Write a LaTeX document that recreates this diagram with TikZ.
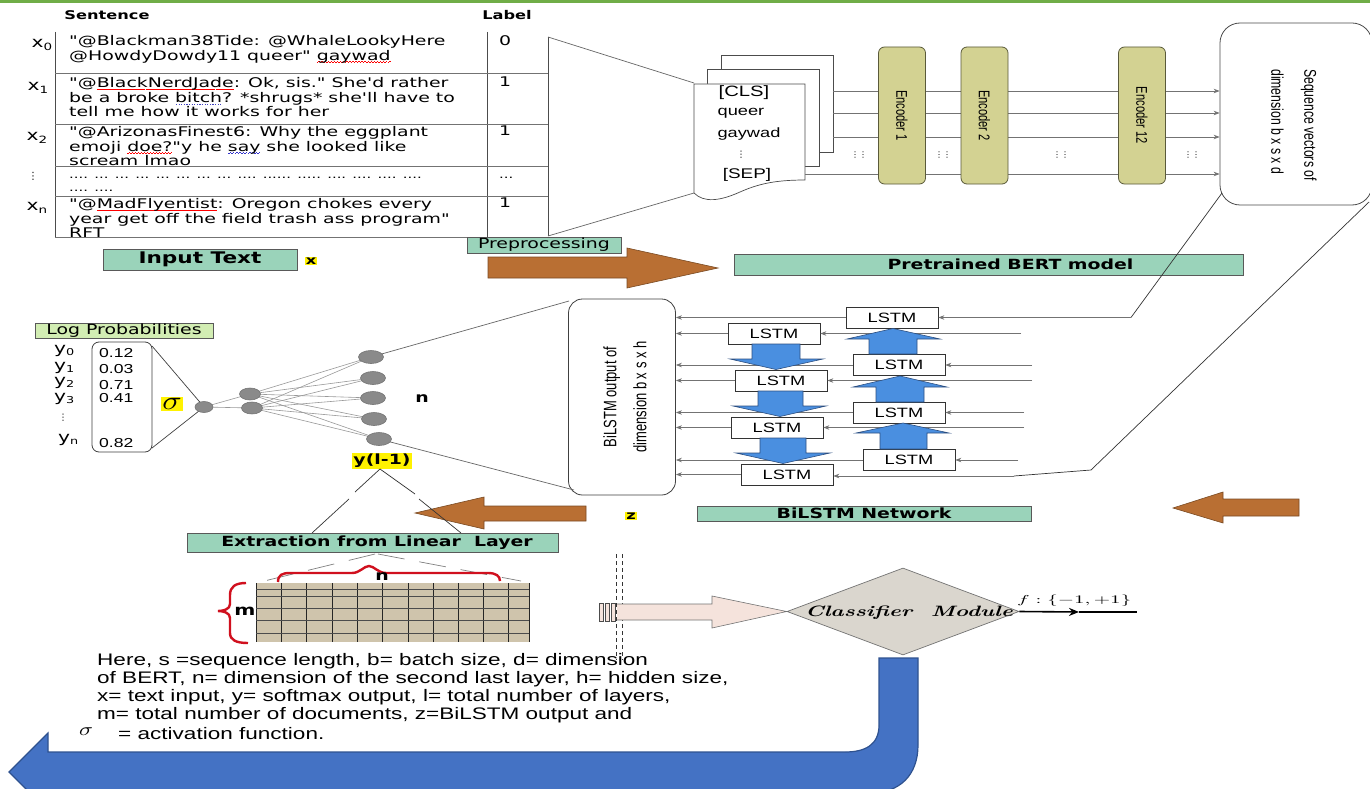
\documentclass[tikz,border=0pt]{standalone}
\usepackage{fontspec}
\usepackage{graphicx}
\usetikzlibrary{shapes.geometric,arrows.meta}
\setmainfont{Liberation Sans}[FakeStretch=1.35]
\newfontfamily\verd{DejaVu Sans}[FakeStretch=1.35]
\newfontfamily\verdt{DejaVu Sans}[FakeStretch=1.42]
\newfontfamily\rotf{Liberation Sans}[FakeStretch=0.72]
\newfontfamily\plainv{DejaVu Sans}
\newfontfamily\lmr{Latin Modern Roman}
\newcommand\fs[2]{\fontsize{#1}{#2}\selectfont}
\newcommand\sub[1]{\raisebox{-3pt}{\fs{10}{10}#1}}
\newcommand\ysub[1]{\raisebox{-2pt}{\fs{9.5}{9.5}#1}}
\newcommand\wav[2]{\setbox0\hbox{#2}\rlap{\lower2.5pt\hbox to\wd0{\color{#1}\xleaders\hbox to 3pt{\rule[0pt]{1.5pt}{0.6pt}\rule[0.7pt]{1.5pt}{0.6pt}}\hfil}}\box0\relax}
\newcommand\rw[1]{\wav{red}{#1}}
\newcommand\bw[1]{\wav{blue!60!gray}{#1}}
\newcommand\dl[1]{\setbox0\hbox{#1}\rlap{\lower2.5pt\hbox to\wd0{\color{blue!50!gray}\xleaders\hbox to 2.5pt{\hss\rule{1.2pt}{0.7pt}\hss}\hfil}}\box0\relax}
\definecolor{topgreen}{HTML}{70AD47}
\definecolor{mint}{HTML}{9AD3BA}
\definecolor{lime}{HTML}{D2EDB3}
\definecolor{brwn}{HTML}{B96F33}
\definecolor{brwnbd}{HTML}{7A4A22}
\definecolor{encol}{HTML}{D3D292}
\definecolor{encbd}{HTML}{5A5A3A}
\definecolor{lblue}{HTML}{4A8FE0}
\definecolor{lbluebd}{HTML}{2D4F80}
\definecolor{ublue}{HTML}{4472C4}
\definecolor{ubluebd}{HTML}{2F528F}
\definecolor{tanc}{HTML}{CFC4AC}
\definecolor{pinkar}{HTML}{F5E3DC}
\definecolor{diam}{HTML}{DAD6CE}
\definecolor{hl}{HTML}{FFF200}
\definecolor{nodegray}{HTML}{8A8A8A}
\definecolor{bracered}{HTML}{D0101E}
\begin{document}
\begin{tikzpicture}[x=1pt,y=-1pt,
  gbox/.style={draw=black!65, fill=mint, line width=0.8pt, inner sep=0pt, font=\verd\bfseries\fs{14}{16}},
  lstm/.style={draw=black!80, fill=white, line width=0.7pt, minimum width=92pt, minimum height=21pt, inner sep=0pt, font=\fs{13.5}{15}},
  enc/.style={draw=encbd, fill=encol, line width=0.8pt, rounded corners=6pt, minimum width=137pt, minimum height=47pt, inner sep=0pt, rotate=-90, font=\rotf\fs{15.5}{16}},
  hlt/.style={fill=hl, inner sep=1pt, font=\verd\bfseries\fs{12}{12}},
  nn/.style={ellipse, draw=black!55, fill=nodegray, inner sep=0pt, line width=0.6pt},
  nedge/.style={draw=black!40, line width=0.6pt},
  gline/.style={draw=black!55, line width=0.7pt},
  garr/.style={gline, -{Stealth[length=6pt,width=4.5pt]}},
  kline/.style={draw=black!80, line width=0.7pt},
  tline/.style={draw=black!70, line width=0.8pt},
  rowtxt/.style={font=\verdt\fs{13.3}{14.8}, align=left, inner sep=0pt, anchor=north west},
  brownar/.style={fill=brwn, draw=brwnbd, line width=0.6pt},
  bluear/.style={fill=lblue, draw=lbluebd, line width=0.6pt},
  docst/.style={draw=black!70, fill=white, line width=0.7pt},
  val/.style={font=\fs{13}{13}, inner sep=0pt, anchor=west},
  ylab/.style={font=\verd\fs{15}{15}, inner sep=0pt, anchor=west}
]
\useasboundingbox (0,0) rectangle (1370,789);
\clip (0,0) rectangle (1370,789);
\fill[white] (0,0) rectangle (1370,789);
\draw[topgreen, line width=3pt] (0,1.5) -- (1370,1.5);

% ---------------- table ----------------
\node[font=\verd\bfseries\fs{12}{14}] (hsent) at (107,15) {Sentence};
\node[font=\verd\bfseries\fs{12}{14}] (hlab) at (507,15) {Label};
\draw[tline] (55,32) -- (55,237);
\draw[tline] (487,32) -- (487,237);
\foreach \yy in {73,124,166,196,237} \draw[draw=black!55, line width=0.7pt] (55,\yy) -- (548,\yy);

\node[font=\verd\fs{15}{15}] (x0) at (42,45) {x\sub{0}};
\node[font=\verd\fs{15}{15}] (x1) at (38,88) {x\sub{1}};
\node[font=\verd\fs{15}{15}] (x2) at (37,138) {x\sub{2}};
\node[font=\plainv\fs{10}{10}] (xd) at (33,176) {⋮};
\node[font=\verd\fs{15}{15}] (xn) at (37,208) {x\sub{n}};

\node[rowtxt] (r0) at (69,35) {"@Blackman38Tide: @WhaleLookyHere\\@HowdyDowdy11 queer" \rw{gaywad}};
\node[rowtxt] (r1) at (69,77) {"@\rw{BlackNerdJade}: Ok, sis." She'd rather\\be a broke \dl{bitch}? *shrugs* she'll have to\\tell me how it works for her};
\node[rowtxt] (r2) at (69,126) {"@ArizonasFinest6: Why the eggplant\\emoji \rw{doe?}"y he \bw{say} she looked like\\scream lmao};
\node[font=\verd\fs{11}{11}, inner sep=0pt, anchor=base west] (r3a) at (69,178) {.... ... ... ... ... ... ... ... .... ...... ..... .... .... .... ....};
\node[font=\verd\fs{11}{11}, inner sep=0pt, anchor=base west] (r3b) at (69,191) {.... ....};
\node[rowtxt] (r4) at (69,198) {"@\rw{MadFlyentist}: Oregon chokes every\\year get off the field trash ass program"\\RFT};

\node[rowtxt] (l0) at (499,35) {0};
\node[rowtxt] (l1) at (499,77) {1};
\node[rowtxt] (l2) at (499,126) {1};
\node[font=\verd\fs{11}{11}, inner sep=0pt, anchor=base west] (l3) at (499,178) {...};
\node[rowtxt] (l4) at (499,198) {1};

\node[gbox, minimum width=194pt, minimum height=21pt, font=\verd\bfseries\fs{16}{18}] (intext) at (200,259.5) {Input Text};
\node[hlt] (xlab) at (311,261) {x};

% ---------------- trapezoid + documents ----------------
\coordinate (tz1) at (548,37);
\coordinate (tz2) at (694,83);
\coordinate (tz3) at (548,236);
\coordinate (tz4) at (694,193);
\draw[tline] (tz1) -- (tz3);
\draw[draw=black!60, line width=0.7pt] (tz1) -- (tz2);
\draw[draw=black!60, line width=0.7pt] (tz3) -- (tz4);

\draw[docst] (721,55) rectangle (833,152);
\draw[docst] (707,69) rectangle (819,166);
\draw[docst] (694,84) -- (805,84) -- (805,180) .. controls (775,180) and (758,184) .. (740,192) .. controls (720,201) and (704,203) .. (694,193) -- cycle;
\node[font=\fs{15}{15}] (tcls) at (744,93) {[CLS]};
\node[font=\fs{13.5}{14}] (tq) at (741,113) {queer};
\node[font=\fs{13.5}{14}] (tg) at (749,134) {gaywad};
\node[font=\plainv\fs{9}{9}] (td) at (741,155) {⋮};
\node[font=\fs{14}{14}] (tsep) at (747,175) {[SEP]};

% ---------------- BERT ----------------
\node[draw=black!70, line width=0.8pt, rounded corners=20pt, minimum width=152pt, minimum height=182pt, inner sep=0pt, fill=white] (seq) at (1296,114) {};
\node[rotate=-90, font=\rotf\fs{17}{33}, align=left] (seqtxt) at (1294,125) {Sequence vectors of\\dimension b x s x d};

\coordinate (dl1) at (833,91);
\coordinate (dl2) at (833,113);
\coordinate (dl3) at (833,137);
\coordinate (dl4) at (805,174);
\foreach \c in {dl1,dl2,dl3,dl4} \draw[garr] (\c) -- (\c -| seq.west);

\node[enc] (e1) at (902,115.5) {Encoder 1};
\node[enc] (e2) at (984.5,115.5) {Encoder 2};
\node[enc] (e12) at (1142,115.5) {Encoder 12};
\node[font=\plainv\fs{8}{8}] (dd1) at (859,155) {⋮⋮};
\node[font=\plainv\fs{8}{8}] (dd2) at (943,155) {⋮⋮};
\node[font=\plainv\fs{8}{8}] (dd3) at (1061,155) {⋮⋮};
\node[font=\plainv\fs{8}{8}] (dd4) at (1192,155) {⋮⋮};

% preprocessing arrow and labels
\draw[brownar] (488,257) -- (627,257) -- (627,248) -- (718,268) -- (627,288) -- (627,278) -- (488,278) -- cycle;
\node[gbox, minimum width=154pt, minimum height=16pt, font=\verd\fs{14}{16}] (prep) at (544,245) {Preprocessing};
\node[gbox, minimum width=509pt, minimum height=21pt] (bert) at (988.5,264.5) {\hspace*{44pt}Pretrained BERT model};

% ---------------- BiLSTM ----------------
\node[draw=black!75, line width=0.8pt, rounded corners=14pt, minimum width=107pt, minimum height=196pt, inner sep=0pt, fill=white] (bil) at (622,397) {};
\node[rotate=90, font=\rotf\fs{18}{30}, align=center] (biltxt) at (625,397) {BiLSTM output of\\dimension b x s x h};

\node[lstm] (R1) at (892,317.5) {LSTM};
\node[lstm] (R2) at (899,365) {LSTM};
\node[lstm] (R3) at (899,412.5) {LSTM};
\node[lstm] (R4) at (909,460) {LSTM};
\node[lstm] (L1) at (774,333.5) {LSTM};
\node[lstm] (L2) at (781,380.5) {LSTM};
\node[lstm] (L3) at (777,427.5) {LSTM};
\node[lstm] (L4) at (787,474.5) {LSTM};

\foreach \n in {R1,L1,R2,L2,R3,L3,R4,L4} \draw[garr] (\n.west) -- (\n.west -| bil.east);

\coordinate (in1) at (1021,333.5);
\coordinate (in2) at (1032,365);
\coordinate (in3) at (1032,380.5);
\coordinate (in4) at (1024,412.5);
\coordinate (in5) at (1024,427.5);
\coordinate (in6) at (1018,460);
\draw[garr] (in1) -- (L1.east);
\draw[garr] (in2) -- (R2.east);
\draw[garr] (in3) -- (L2.east);
\draw[garr] (in4) -- (R3.east);
\draw[garr] (in5) -- (L3.east);
\draw[garr] (in6) -- (R4.east);

\coordinate (sq1) at (1222,193);
\coordinate (k1) at (1131,317.5);
\draw[kline] (sq1) -- (k1);
\draw[garr] (k1) -- (R1.east);
\coordinate (sq2) at (1369,202);
\coordinate (k2) at (1091,470);
\coordinate (k3) at (1014,476);
\draw[kline] (sq2) -- (k2) -- (k3);
\draw[garr] (k3) -- (k3 -| L4.east);

% blue arrows down (left column)
\draw[bluear] (752,344) -- (800,344) -- (800,359) -- (823,359) -- (776,369.5) -- (730,359) -- (752,359) -- cycle;
\draw[bluear] (758,391) -- (803,391) -- (803,406) -- (826,406) -- (780,416.5) -- (733,406) -- (758,406) -- cycle;
\draw[bluear] (760,438) -- (806,438) -- (806,453) -- (830,453) -- (783,463.5) -- (736,453) -- (760,453) -- cycle;
% blue arrows up (right column)
\draw[bluear] (869,354) -- (917,354) -- (917,339) -- (940,339) -- (893,328.5) -- (847,339) -- (869,339) -- cycle;
\draw[bluear] (876,402) -- (924,402) -- (924,387) -- (947,387) -- (900,376) -- (853,387) -- (876,387) -- cycle;
\draw[bluear] (880,449) -- (927,449) -- (927,433) -- (949,433) -- (903,423) -- (856,433) -- (880,433) -- cycle;

\node[gbox, minimum width=334pt, minimum height=15pt, font=\verd\bfseries\fs{14}{15}] (bnet) at (864,513.5) {BiLSTM Network};
\node[hlt] (zlab) at (631,516) {z};

% brown arrows pointing left
\draw[brownar] (1299,499) -- (1223,499) -- (1223,492) -- (1173,508) -- (1223,523) -- (1223,516) -- (1299,516) -- cycle;
\draw[brownar] (586,506) -- (484,506) -- (484,497) -- (415,513) -- (484,529) -- (484,521) -- (586,521) -- cycle;

% ---------------- output network ----------------
\node[gbox, fill=lime, minimum width=178pt, minimum height=15pt, font=\verd\fs{14}{15}] (logp) at (124,330.5) {Log Probabilities};
\node[draw=black!75, line width=0.8pt, rounded corners=7pt, minimum width=60pt, minimum height=110pt, inner sep=0pt] (logbox) at (122,397) {};
\node[val] (v0) at (99,353) {0.12};
\node[val] (v1) at (99,369) {0.03};
\node[val] (v2) at (99,385) {0.71};
\node[val] (v3) at (99,398) {0.41};
\node[val] (v4) at (99,443) {0.82};
\node[ylab] (y0) at (54,351) {y\ysub{0}};
\node[ylab] (y1) at (54,367.5) {y\ysub{1}};
\node[ylab] (y2) at (54,383) {y\ysub{2}};
\node[ylab] (y3) at (54,398.5) {y\ysub{3}};
\node[font=\plainv\fs{9}{9}] (yd) at (63,418) {⋮};
\node[ylab] (yn) at (58,440) {y\ysub{n}};

\node[fill=hl, inner sep=1.5pt] (sig) at (172,404) {\scalebox{3.2}[2.6]{$\sigma$}};

\coordinate (cs0) at (204,407);
\coordinate (ch1) at (250,394);
\coordinate (ch2) at (252,408);
\coordinate (co1) at (371,357);
\coordinate (co2) at (373,378);
\coordinate (co3) at (373,398);
\coordinate (co4) at (374,419);
\coordinate (co5) at (379,439);
\draw[nedge] (cs0) -- (ch1);
\draw[nedge] (cs0) -- (ch2);
\foreach \h in {ch1,ch2} \foreach \o in {co1,co2,co3,co4,co5} \draw[nedge] (\h) -- (\o);
\coordinate (lb1) at (152,346);
\coordinate (lb2) at (152,448);
\draw[draw=black!75, line width=0.7pt] (lb1) -- (cs0);
\draw[draw=black!75, line width=0.7pt] (lb2) -- (cs0);
\coordinate (bl1) at (569,301);
\coordinate (bl2) at (574,490);
\draw[draw=black!60, line width=0.7pt] (bl1) -- (co1);
\draw[draw=black!60, line width=0.7pt] (bl2) -- (co5);
\node[nn, minimum width=18pt, minimum height=11pt] (s0) at (cs0) {};
\node[nn, minimum width=21pt, minimum height=12pt] (h1) at (ch1) {};
\node[nn, minimum width=21pt, minimum height=12pt] (h2) at (ch2) {};
\node[nn, minimum width=25pt, minimum height=13pt] (o1) at (co1) {};
\node[nn, minimum width=25pt, minimum height=13pt] (o2) at (co2) {};
\node[nn, minimum width=25pt, minimum height=13pt] (o3) at (co3) {};
\node[nn, minimum width=25pt, minimum height=13pt] (o4) at (co4) {};
\node[nn, minimum width=25pt, minimum height=13pt] (o5) at (co5) {};

\node[font=\verd\bfseries\fs{14}{14}] (nlab) at (422,399) {n};
\node[hlt, font=\verd\bfseries\fs{14}{14}] (ylm) at (382,461) {y(l-1)};

\coordinate (yt) at (380,469);
\draw[draw=black!80, line width=0.7pt] (yt) -- (355,492) (349,499) -- (312,533);
\draw[draw=black!80, line width=0.7pt] (yt) -- (415,494) (419,499) -- (461,533);

\node[gbox, minimum width=371pt, minimum height=19pt, font=\verd\bfseries\fs{14}{16}] (extr) at (373,542.5) {\hspace*{8pt}Extraction from Linear\ \ Layer};

% ---------------- matrix ----------------
\fill[tanc] (256,583) rectangle (529,642);
\foreach \xx in {256,281,306,332,357,382,408,433,458,483,508,529} \draw[draw=black!85, line width=0.7pt] (\xx,583) -- (\xx,642);
\foreach \yy in {589,596,608,620,633} \draw[draw=black!70, line width=0.6pt] (256,\yy) -- (529,\yy);
\coordinate (mtl) at (256,583);
\coordinate (mtr) at (521,581);
\coordinate (ex1) at (375,554);
\coordinate (ex2) at (378,554);
\draw[draw=black!50, line width=0.7pt, dash pattern=on 27pt off 15pt] (ex1) -- (mtl);
\draw[draw=black!50, line width=0.7pt, dash pattern=on 27pt off 15pt] (ex2) -- (mtr);
\draw[bracered, line width=2.4pt] (278,582) .. controls (278,575) and (282,573) .. (290,573) -- (352,573) .. controls (360,573) and (364,566) .. (369,566) .. controls (374,566) and (378,573) .. (386,573) -- (488,573) .. controls (496,573) and (500,576) .. (500,581);
\draw[bracered, line width=2.4pt] (246,583) .. controls (235,583) and (230,587) .. (230,595) -- (230,604) .. controls (230,609) and (224,611) .. (218,611) .. controls (224,611) and (230,613) .. (230,618) -- (230,633) .. controls (230,640) and (236,643) .. (248,643);
\node[font=\verd\bfseries\fs{14}{14}] (nmat) at (382,577) {n};
\node[font=\verd\bfseries\fs{15}{15}] (mmat) at (245,611) {m};

% ---------------- classifier ----------------
\draw[draw=black!80, line width=0.6pt, dash pattern=on 4pt off 3pt] (616,554) -- (616,660);
\draw[draw=black!80, line width=0.6pt, dash pattern=on 4pt off 3pt] (622,554) -- (622,660);
\draw[draw=black!70, fill=pinkar, line width=0.6pt] (599,603) rectangle (603,621);
\draw[draw=black!70, fill=pinkar, line width=0.6pt] (605,603) rectangle (609,621);
\draw[draw=black!70, fill=pinkar, line width=0.6pt] (611,603) rectangle (615,621);
\node[diamond, draw=black!55, fill=diam, line width=0.7pt, inner sep=0pt, minimum width=232pt, minimum height=87pt] (clf) at (903,611.5) {};
\draw[draw=black!55, fill=pinkar, line width=0.6pt] (617,604) -- (712,604) -- (712,596) -- (clf.west) -- (712,628) -- (712,620) -- (617,620);
\node (clft) at (909,613) {\scalebox{1.5}[1]{\lmr\fs{15}{15}\bfseries\itshape Classifier\ \ Module}};
\coordinate (fout) at (1137,612);
\coordinate (fmid) at (1079,612);
\draw[black, line width=1.6pt, -{Stealth[length=10pt,width=8pt]}] (clf.east) -- (fmid);
\draw[black, line width=1.6pt] (fmid) -- (fout);
\node[anchor=south west, inner sep=0pt] (flab) at (1017,607) {\scalebox{2.1}[1.15]{$f:\{-1,+1\}$}};

% ---------------- explanation + U arrow ----------------
\draw[fill=ublue, draw=ubluebd, line width=1.2pt] (879,658) -- (918,658) -- (918,745) .. controls (918,775) and (900,793) .. (870,793) -- (48,793) -- (48,811) -- (9,772) -- (48,733) -- (48,752) -- (845,752) .. controls (865,752) and (879,745) .. (879,725) -- cycle;

\node[anchor=north west, inner sep=0pt, font=\fs{16.7}{18.2}, align=left] (expl) at (97,653) {Here, s =sequence length, b= batch size, d= dimension\\of BERT, n= dimension of the second last layer, h= hidden size,\\x= text input, y= softmax output, l= total number of layers,\\m= total number of documents, z=BiLSTM output and};
\node[inner sep=0pt] (sgm) at (86,732) {\scalebox{2.3}[1.8]{$\sigma$}};
\node[anchor=west, inner sep=0pt, font=\fs{16.7}{18}] (actf) at (118,734) {= activation function.};
\end{tikzpicture}
\end{document}
